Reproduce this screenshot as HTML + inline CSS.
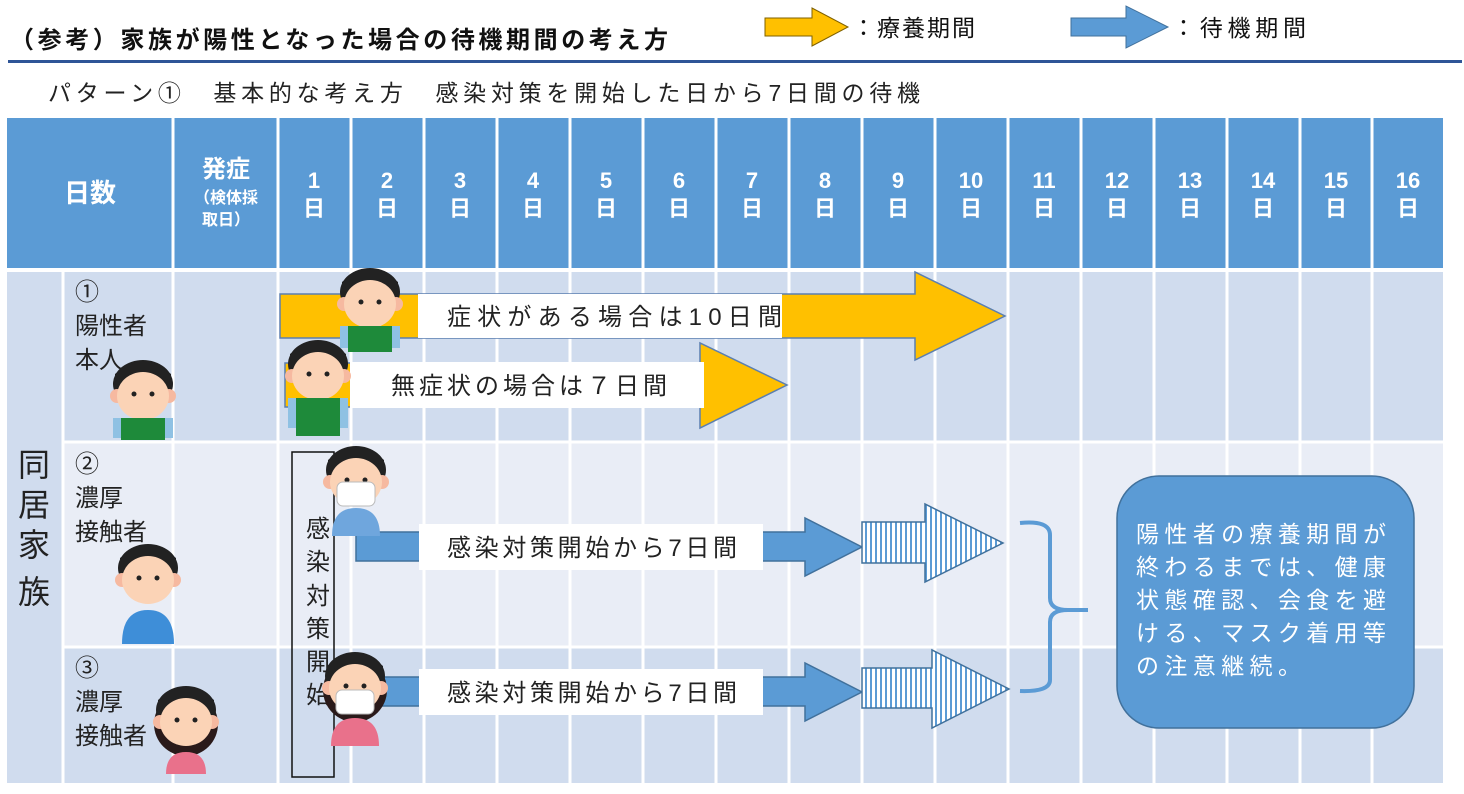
<!DOCTYPE html>
<html><head><meta charset="utf-8"><style>
html,body{margin:0;padding:0;background:#fff;}
svg{display:block;font-family:"Liberation Sans","Noto Sans CJK JP",sans-serif;}
</style></head><body>
<svg width="1464" height="794" viewBox="0 0 1464 794" xmlns="http://www.w3.org/2000/svg">
<defs>
<pattern id="st" width="5" height="10" patternUnits="userSpaceOnUse"><rect width="5" height="10" fill="#fff"/><rect width="2" height="10" fill="#5B9BD5"/></pattern>
<g id="face">
 <ellipse cx="0" cy="-4" rx="30" ry="24" fill="#222"/>
 <circle cx="-26" cy="8" r="7" fill="#F6B9A0"/><circle cx="26" cy="8" r="7" fill="#F6B9A0"/>
 <ellipse cx="0" cy="8" rx="26" ry="24" fill="#FBD3B6"/>
 <path d="M-28 -6 Q0 -30 28 -6 L28 -14 Q0 -36 -28 -14Z" fill="#222"/>
 <circle cx="-9" cy="6" r="2.5" fill="#222"/><circle cx="9" cy="6" r="2.5" fill="#222"/>
</g>
</defs>
<!-- title -->
<text x="10" y="48" font-size="24" font-weight="bold" fill="#111" textLength="658" lengthAdjust="spacing">（参考）家族が陽性となった場合の待機期間の考え方</text>
<rect x="8" y="60" width="1454" height="3" fill="#2F5597"/>
<path d="M765 18 H812 V8 L848 27 L812 46 V36 H765Z" fill="#FFC000" stroke="#7F6000" stroke-width="1"/>
<text x="852" y="36" font-size="23" fill="#111" textLength="123" lengthAdjust="spacing">：療養期間</text>
<path d="M1071 18 H1126 V6 L1168 27 L1126 48 V36 H1071Z" fill="#5B9BD5" stroke="#41719C" stroke-width="1"/>
<text x="1172" y="36" font-size="23" fill="#111" textLength="134" lengthAdjust="spacing">：待機期間</text>
<text x="48" y="101" font-size="23" fill="#222" textLength="872" lengthAdjust="spacing">パターン①　基本的な考え方　感染対策を開始した日から7日間の待機</text>

<!-- table header -->
<rect x="7" y="118" width="1436" height="150" fill="#5B9BD5"/>
<rect x="7" y="272" width="1436" height="169" fill="#D0DCEE"/>
<rect x="63" y="443" width="1380" height="203" fill="#E9EDF6"/>
<rect x="63" y="648" width="1380" height="135" fill="#D0DCEE"/>
<rect x="7" y="272" width="56" height="511" fill="#D0DCEE"/>
<g stroke="#fff" stroke-width="3">
 <line x1="63" y1="272" x2="63" y2="783"/>
 <line x1="173" y1="118" x2="173" y2="783"/>
 <line x1="278" y1="118" x2="278" y2="783"/>
 <line x1="351" y1="118" x2="351" y2="783"/><line x1="424" y1="118" x2="424" y2="783"/>
 <line x1="497" y1="118" x2="497" y2="783"/><line x1="570" y1="118" x2="570" y2="783"/>
 <line x1="643" y1="118" x2="643" y2="783"/><line x1="716" y1="118" x2="716" y2="783"/>
 <line x1="789" y1="118" x2="789" y2="783"/><line x1="862" y1="118" x2="862" y2="783"/>
 <line x1="935" y1="118" x2="935" y2="783"/><line x1="1008" y1="118" x2="1008" y2="783"/>
 <line x1="1081" y1="118" x2="1081" y2="783"/><line x1="1154" y1="118" x2="1154" y2="783"/>
 <line x1="1227" y1="118" x2="1227" y2="783"/><line x1="1300" y1="118" x2="1300" y2="783"/>
 <line x1="1372" y1="118" x2="1372" y2="783"/>
 <line x1="63" y1="442" x2="1443" y2="442"/><line x1="63" y1="647" x2="1443" y2="647"/>
</g>
<rect x="7" y="268" width="1436" height="4" fill="#fff"/>
<g fill="#fff" font-weight="bold" text-anchor="middle" font-size="22">
 <text x="90" y="202" font-size="26">日数</text>
 <text x="226" y="177" font-size="24">発症</text>
 <text x="226" y="203" font-size="16">（検体採</text>
 <text x="226" y="225" font-size="16">取日）</text>
 <g font-size="22">
 <text x="314" y="188">1</text><text x="314" y="216">日</text>
 <text x="387" y="188">2</text><text x="387" y="216">日</text>
 <text x="460" y="188">3</text><text x="460" y="216">日</text>
 <text x="533" y="188">4</text><text x="533" y="216">日</text>
 <text x="606" y="188">5</text><text x="606" y="216">日</text>
 <text x="679" y="188">6</text><text x="679" y="216">日</text>
 <text x="752" y="188">7</text><text x="752" y="216">日</text>
 <text x="825" y="188">8</text><text x="825" y="216">日</text>
 <text x="898" y="188">9</text><text x="898" y="216">日</text>
 <text x="971" y="188">10</text><text x="971" y="216">日</text>
 <text x="1044" y="188">11</text><text x="1044" y="216">日</text>
 <text x="1117" y="188">12</text><text x="1117" y="216">日</text>
 <text x="1190" y="188">13</text><text x="1190" y="216">日</text>
 <text x="1263" y="188">14</text><text x="1263" y="216">日</text>
 <text x="1336" y="188">15</text><text x="1336" y="216">日</text>
 <text x="1408" y="188">16</text><text x="1408" y="216">日</text>
 </g>
</g>
<g fill="#222" font-size="24">
 <text x="75" y="300">①</text><text x="75" y="334">陽性者</text><text x="75" y="368">本人</text>
 <text x="75" y="472">②</text><text x="75" y="506">濃厚</text><text x="75" y="540">接触者</text>
 <text x="75" y="676">③</text><text x="75" y="710">濃厚</text><text x="75" y="744">接触者</text>
 <g font-size="32" text-anchor="middle"><text x="34" y="476">同</text><text x="34" y="516">居</text><text x="34" y="556">家</text><text x="34" y="603">族</text></g>
</g>

<path d="M280 294 H915 V272 L1005 316 L915 360 V338 H280Z" fill="#FFC000" stroke="#5B7FB0" stroke-width="1.5"/>
<rect x="418" y="294" width="364" height="44" fill="#fff"/>
<text x="447" y="325" font-size="24" fill="#222" textLength="335" lengthAdjust="spacing">症状がある場合は10日間</text>
<path d="M285 363 H700 V343 L787 385 L700 428 V407 H285Z" fill="#FFC000" stroke="#5B7FB0" stroke-width="1.5"/>
<rect x="350" y="362" width="354" height="46" fill="#fff"/>
<text x="391" y="394" font-size="24" fill="#222" textLength="276" lengthAdjust="spacing">無症状の場合は７日間</text>

<path d="M356 532 H805 V518 L862 547 L805 576 V561 H356Z" fill="#5B9BD5" stroke="#41719C" stroke-width="1.5"/>
<rect x="419" y="524" width="344" height="46" fill="#fff"/>
<text x="447" y="556" font-size="24" fill="#222" textLength="290" lengthAdjust="spacing">感染対策開始から7日間</text>
<path d="M862 522 H925 V504 L1003 543 L925 582 V563 H862Z" fill="url(#st)" stroke="#41719C" stroke-width="1.5"/>
<path d="M356 677 H805 V663 L862 692 L805 721 V706 H356Z" fill="#5B9BD5" stroke="#41719C" stroke-width="1.5"/>
<rect x="419" y="669" width="344" height="46" fill="#fff"/>
<text x="447" y="701" font-size="24" fill="#222" textLength="290" lengthAdjust="spacing">感染対策開始から7日間</text>
<path d="M862 668 H932 V650 L1009 689 L932 728 V708 H862Z" fill="url(#st)" stroke="#41719C" stroke-width="1.5"/>

<path d="M1020 523 Q1050 520 1050 535 V598 Q1050 610 1068 610 H1088 M1068 610 Q1050 610 1050 622 V680 Q1050 692 1020 691" fill="none" stroke="#5B9BD5" stroke-width="4"/>
<rect x="1117" y="476" width="297" height="252" rx="42" fill="#5B9BD5" stroke="#41719C" stroke-width="1.5"/>
<g fill="#fff" font-size="23">
 <text x="1136" y="542" textLength="250" lengthAdjust="spacing">陽性者の療養期間が</text>
 <text x="1136" y="575" textLength="250" lengthAdjust="spacing">終わるまでは、健康</text>
 <text x="1136" y="608" textLength="250" lengthAdjust="spacing">状態確認、会食を避</text>
 <text x="1136" y="641" textLength="250" lengthAdjust="spacing">ける、マスク着用等</text>
 <text x="1136" y="674" textLength="165" lengthAdjust="spacing">の注意継続。</text>
</g>

<rect x="292" y="452" width="42" height="325" fill="none" stroke="#111" stroke-width="1.5"/>
<g font-size="24" fill="#222" text-anchor="middle">
 <text x="318" y="537">感</text><text x="318" y="570">染</text><text x="318" y="604">対</text><text x="318" y="637">策</text><text x="318" y="670">開</text><text x="318" y="703">始</text>
</g>

<g transform="translate(370,296)"><use href="#face"/><rect x="-22" y="30" width="44" height="26" fill="#1E8A3A"/><rect x="-30" y="30" width="8" height="22" fill="#8FC1E3"/><rect x="22" y="30" width="8" height="22" fill="#8FC1E3"/></g>
<g transform="translate(318,368)"><use href="#face"/><rect x="-22" y="30" width="44" height="38" fill="#1E8A3A"/><rect x="-30" y="30" width="8" height="30" fill="#8FC1E3"/><rect x="22" y="30" width="8" height="30" fill="#8FC1E3"/></g>
<g transform="translate(143,388)"><use href="#face"/><rect x="-22" y="30" width="44" height="22" fill="#1E8A3A"/><rect x="-30" y="30" width="8" height="20" fill="#8FC1E3"/><rect x="22" y="30" width="8" height="20" fill="#8FC1E3"/></g>
<g transform="translate(356,474)"><use href="#face"/><path d="M-24 62 Q-24 34 0 34 Q24 34 24 62Z" fill="#6FA6DD"/><rect x="-19" y="8" width="38" height="24" rx="6" fill="#fff" stroke="#bbb"/></g>
<g transform="translate(148,572)"><use href="#face"/><path d="M-26 72 Q-26 38 0 38 Q26 38 26 72Z" fill="#3E8ED8"/></g>
<g transform="translate(355,680)"><ellipse cx="0" cy="10" rx="32" ry="32" fill="#2a1a1a"/><use href="#face"/><path d="M-24 66 Q-24 38 0 38 Q24 38 24 66Z" fill="#E9718B"/><rect x="-19" y="10" width="38" height="24" rx="6" fill="#fff" stroke="#bbb"/></g>
<g transform="translate(186,714)"><ellipse cx="0" cy="10" rx="32" ry="32" fill="#2a1a1a"/><use href="#face"/><path d="M-20 60 Q-20 38 0 38 Q20 38 20 60Z" fill="#E9718B"/></g>
</svg>
</body></html>
